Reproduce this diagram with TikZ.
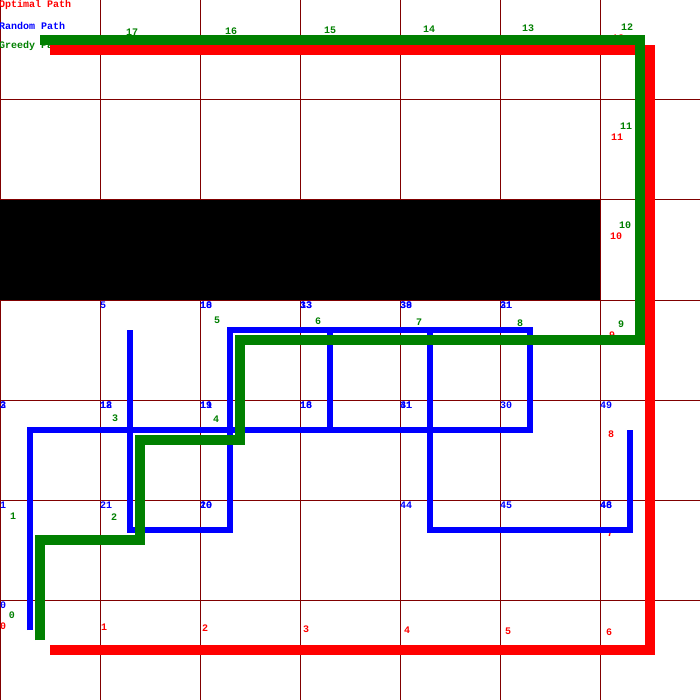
\documentclass[tikz,border=0pt]{standalone}
\usepackage{fontspec}
\setmonofont{Liberation Mono}
\definecolor{grn}{RGB}{0,128,0}
\definecolor{maroon}{RGB}{128,0,0}
\begin{document}
\begin{tikzpicture}[x=1pt,y=-1pt,
  lbl/.style={inner sep=0pt, outer sep=0pt, anchor=west, font=\ttfamily\bfseries\fontsize{10}{10}\selectfont},
  rlbl/.style={lbl,text=red},
  glbl/.style={lbl,text=grn},
  blbl/.style={lbl,text=blue},
  gridline/.style={draw=maroon, line width=1pt},
  optpath/.style={draw=red, line width=10pt, line join=miter, line cap=butt},
  randpath/.style={draw=blue, line width=5.5pt, line join=miter, line cap=butt},
  greedpath/.style={draw=grn, line width=10pt, line join=miter, line cap=butt}]
\fill[white] (0,0) rectangle (700,700);
\useasboundingbox (0,0) rectangle (700,700);
% grid
\foreach \k in {0,100,...,700} {
  \draw[gridline] (\k,0) -- (\k,700);
  \draw[gridline] (0,\k) -- (700,\k);
}
% obstacle
\fill[black] (0,200) rectangle (600,300);
% legend
\node[rlbl] (legopt) at (-1,4.5) {Optimal Path};
\node[blbl] (legrand) at (-1,25.5) {Random Path};
\node[glbl] (leggreed) at (-1,46) {Greedy Path};
% red labels
\foreach \i/\c/\r in {0/0/6,1/1/6,2/2/6,3/3/6,4/4/6,5/5/6,6/6/6,7/6/5,8/6/4,9/6/3,10/6/2,11/6/1,12/6/0,13/5/0,14/4/0,15/3/0,16/2/0,17/1/0}
  \node[rlbl] (rl\i) at ({\c*100+\i},{\r*100+26+\i}) {\i};
% green labels
\foreach \i/\c/\r in {0/0/6,1/0/5,2/1/5,3/1/4,4/2/4,5/2/3,6/3/3,7/4/3,8/5/3,9/6/3,10/6/2,11/6/1,12/6/0,13/5/0,14/4/0,15/3/0,16/2/0,17/1/0}
  \node[glbl] (gl\i) at ({\c*100+9+\i},{\r*100+15.5+\i}) {\i};
% blue labels (overlaid where cells were visited more than once)
\foreach \n/\c/\r/\t in {a/0/6/0,b/0/5/1,c/0/4/2,d/0/4/3,e/1/3/5,f/1/4/12,g/1/4/18,h/2/4/11,i/2/4/19,j/3/4/16,k/3/4/18,l/4/4/31,m/4/4/41,n/5/4/30,o/6/4/49,p/2/3/10,q/2/3/18,r/3/3/13,s/3/3/33,t/4/3/38,u/4/3/39,v/5/3/21,w/5/3/31,x/1/5/21,y/2/5/10,z/2/5/20,aa/4/5/44,ab/5/5/45,ac/6/5/46,ad/6/5/48}
  \node[blbl] (bl\n) at ({\c*100},{\r*100+5.5}) {\t};
% path coordinates
\coordinate (r0) at (50,650); \coordinate (r1) at (650,650);
\coordinate (r2) at (650,50); \coordinate (r3) at (50,50);
\coordinate (b0) at (30,630); \coordinate (b1) at (30,430);
\coordinate (b2) at (530,430); \coordinate (b3) at (530,330);
\coordinate (b4) at (230,330); \coordinate (b5) at (230,530);
\coordinate (b6) at (130,530); \coordinate (b7) at (130,330);
\coordinate (b8) at (330,330); \coordinate (b9) at (330,430);
\coordinate (b10) at (430,330); \coordinate (b11) at (430,530);
\coordinate (b12) at (630,530); \coordinate (b13) at (630,430);
\coordinate (g0) at (40,640); \coordinate (g1) at (40,540);
\coordinate (g2) at (140,540); \coordinate (g3) at (140,440);
\coordinate (g4) at (240,440); \coordinate (g5) at (240,340);
\coordinate (g6) at (640,340); \coordinate (g7) at (640,40);
\coordinate (g8) at (40,40);
% paths
\draw[optpath] (r0) -- (r1) -- (r2) -- (r3);
\draw[randpath] (b0) -- (b1) -- (b2) -- (b3) -- (b4) -- (b5) -- (b6) -- (b7);
\draw[randpath] (b8) -- (b9);
\draw[randpath] (b10) -- (b11) -- (b12) -- (b13);
\draw[greedpath] (g0) -- (g1) -- (g2) -- (g3) -- (g4) -- (g5) -- (g6) -- (g7) -- (g8);
\end{tikzpicture}
\end{document}
